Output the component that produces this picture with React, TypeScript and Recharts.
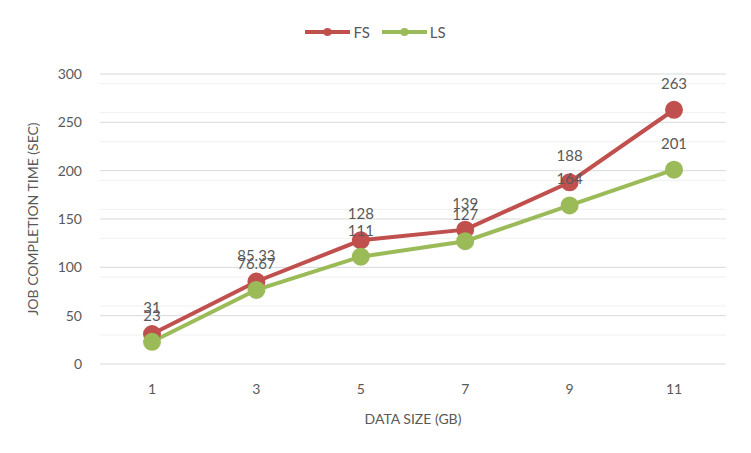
import React from 'react';
import { LineChart, Line, XAxis, YAxis, CartesianGrid, Legend, LabelList, Label } from 'recharts';

const dataSizes = ['1', '3', '5', '7', '9', '11'];
const fsTimes = [31, 85.33, 128, 139, 188, 263];
const lsTimes = [23, 76.67, 111, 127, 164, 201];
const yTicks = [0, 50, 100, 150, 200, 250, 300];
const minorTicks = Array.from({ length: 31 }, (_, i) => i * 10).filter((v) => v % 50 !== 0);

const RED = '#C0504D';
const GREEN = '#9BBB59';
const TEXT = '#595959';
const FONT = 'Lato, "Open Sans", sans-serif';

const chartData = dataSizes.map((size, i) => ({ size, FS: fsTimes[i], LS: lsTimes[i] }));

const LegendContent = () => (
    <div style={{ display: 'flex', justifyContent: 'center', gap: 12, fontFamily: FONT, fontSize: 15, color: TEXT }}>
        {[{ name: 'FS', color: RED }, { name: 'LS', color: GREEN }].map((item) => (
            <div key={item.name} style={{ display: 'flex', alignItems: 'center', gap: 3 }}>
                <svg width={45} height={12}>
                    <line x1={0} y1={6} x2={45} y2={6} stroke={item.color} strokeWidth={4} />
                    <circle cx={22.5} cy={6} r={4} fill={item.color} />
                </svg>
                <span>{item.name}</span>
            </div>
        ))}
    </div>
);

export default function App() {
    return (
        <div style={{ position: 'absolute', left: 0, top: 0, width: 751, height: 453, background: '#fff' }}>
            <LineChart width={751} height={453} data={chartData} margin={{ top: 56, right: 25, bottom: 29, left: 0 }}>
                <CartesianGrid vertical={false} horizontalValues={minorTicks} stroke="#f0f0f0" strokeWidth={1} />
                <CartesianGrid vertical={false} horizontalValues={yTicks} stroke="#d9d9d9" strokeWidth={1} />
                <Legend verticalAlign="top" content={<LegendContent />} wrapperStyle={{ top: 23, left: 0, width: 751 }} />
                <XAxis
                    dataKey="size"
                    height={60}
                    padding={{ left: 52, right: 52 }}
                    axisLine={false}
                    tickLine={false}
                    tickMargin={14}
                    tick={{ fill: TEXT, fontSize: 14, fontFamily: FONT }}
                >
                    <Label value="DATA SIZE (GB)" position="insideBottom" offset={0} style={{ fill: TEXT, fontSize: 14, fontFamily: FONT }} />
                </XAxis>
                <YAxis
                    width={100}
                    domain={[0, 300]}
                    ticks={yTicks}
                    axisLine={false}
                    tickLine={false}
                    tickMargin={12}
                    tick={{ fill: TEXT, fontSize: 14, fontFamily: FONT }}
                >
                    <Label
                        value="JOB COMPLETION TIME (SEC)"
                        angle={-90}
                        position="insideLeft"
                        offset={33}
                        style={{ textAnchor: 'middle', fill: TEXT, fontSize: 14, fontFamily: FONT }}
                    />
                </YAxis>
                <Line
                    dataKey="FS"
                    stroke={RED}
                    strokeWidth={4}
                    dot={{ r: 7, fill: RED, stroke: RED }}
                    isAnimationActive={false}
                >
                    <LabelList dataKey="FS" position="top" offset={21} style={{ fill: TEXT, fontSize: 15, fontFamily: FONT }} />
                </Line>
                <Line
                    dataKey="LS"
                    stroke={GREEN}
                    strokeWidth={4}
                    dot={{ r: 7, fill: GREEN, stroke: GREEN }}
                    isAnimationActive={false}
                >
                    <LabelList dataKey="LS" position="top" offset={21} style={{ fill: TEXT, fontSize: 15, fontFamily: FONT }} />
                </Line>
            </LineChart>
        </div>
    );
}
